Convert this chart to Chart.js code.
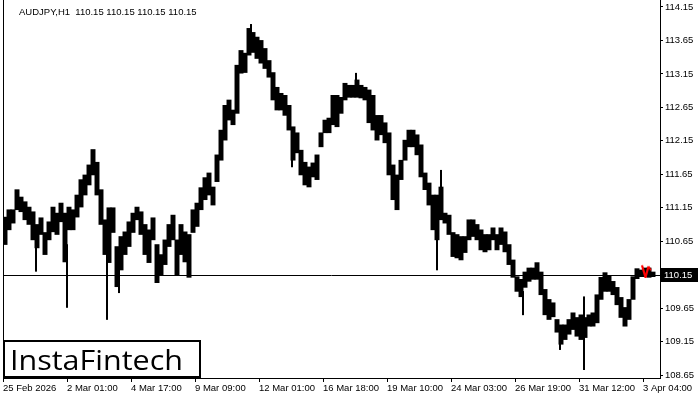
<!DOCTYPE html>
<html>
<head>
<meta charset="utf-8">
<script src="https://cdn.jsdelivr.net/npm/chart.js@4.4.1/dist/chart.umd.min.js"></script>
<style>
  html, body { margin: 0; padding: 0; background: #fff; }
  #chart { display: block; }
</style>
</head>
<body>
<canvas id="chart" width="700" height="400"></canvas>
<script>
const symbolTitle = 'AUDJPY,H1  110.15 110.15 110.15 110.15';
const lastPrice = 110.15;

// 4-hour blocks, left to right (high / low)
const blockHigh = [
  111.01, 111.12, 111.12, 111.42, 111.31, 111.24, 111.16, 111.09, 110.90, 111.00,
  110.78, 110.94, 111.16, 111.07, 111.22, 111.07, 111.16, 111.12, 111.34, 111.57,
  111.64, 111.79, 112.02, 111.83, 111.42, 110.97, 111.15, 111.15, 110.57, 110.72,
  110.79, 110.94, 111.07, 111.16, 111.09, 110.90, 110.82, 111.00, 110.60, 110.45,
  110.67, 110.90, 111.04, 110.67, 110.90, 110.79, 110.75, 111.12, 111.22, 111.45,
  111.60, 111.67, 111.46, 111.94, 112.31, 112.68, 112.76, 112.61, 113.28, 113.50,
  113.46, 113.83, 113.77, 113.70, 113.65, 113.53, 113.35, 113.17, 112.95, 112.86,
  112.83, 112.68, 112.36, 112.27, 112.01, 111.83, 111.76, 111.82, 111.94, 112.27,
  112.46, 112.49, 112.83, 112.83, 112.80, 113.01, 112.98, 112.98, 113.06, 112.98,
  112.95, 112.91, 112.83, 112.53, 112.53, 112.42, 112.27, 111.79, 111.64, 111.86,
  112.16, 112.31, 112.31, 112.24, 112.09, 111.67, 111.52, 111.34, 111.34, 111.46,
  111.07, 111.04, 110.78, 110.75, 110.72, 110.72, 110.97, 110.97, 110.90, 110.82,
  110.75, 110.75, 110.85, 110.75, 110.85, 110.79, 110.60, 110.37, 110.12, 110.08,
  110.19, 110.25, 110.25, 110.33, 110.19, 109.93, 109.78, 109.73, 109.48, 109.40,
  109.40, 109.48, 109.58, 109.51, 109.55, 109.51, 109.55, 109.58, 109.85, 110.11,
  110.18, 110.14, 110.05, 109.96, 109.81, 109.66, 109.78, 110.12, 110.24, 110.22,
  110.25, 110.25, 110.19
];
const blockLow = [
  110.60, 110.82, 110.92, 111.12, 111.09, 110.97, 110.90, 110.67, 110.55, 110.75,
  110.45, 110.67, 110.79, 110.75, 110.94, 110.34, 110.82, 110.82, 111.01, 111.16,
  111.34, 111.49, 111.64, 111.34, 110.90, 110.45, 110.33, 110.78, 109.97, 110.22,
  110.45, 110.57, 110.78, 110.97, 110.75, 110.45, 110.33, 110.67, 110.03, 110.15,
  110.30, 110.57, 110.67, 110.15, 110.45, 110.34, 110.11, 110.78, 110.87, 111.12,
  111.27, 111.34, 111.19, 111.54, 111.86, 112.16, 112.46, 112.39, 112.56, 113.16,
  113.17, 113.43, 113.47, 113.38, 113.31, 113.23, 113.10, 112.76, 112.61, 112.61,
  112.53, 112.31, 111.86, 111.97, 111.64, 111.49, 111.46, 111.61, 111.57, 112.06,
  112.27, 112.27, 112.39, 112.36, 112.56, 112.76, 112.80, 112.80, 112.80, 112.79,
  112.76, 112.42, 112.31, 112.16, 112.24, 112.12, 111.64, 111.27, 111.12, 111.57,
  111.86, 112.06, 112.06, 111.94, 111.61, 111.42, 111.19, 110.82, 110.67, 110.97,
  110.92, 110.75, 110.42, 110.40, 110.37, 110.48, 110.67, 110.72, 110.67, 110.52,
  110.49, 110.52, 110.67, 110.52, 110.60, 110.49, 110.30, 110.11, 109.90, 109.82,
  109.96, 110.05, 110.08, 110.08, 109.85, 109.55, 109.48, 109.52, 109.29, 109.11,
  109.18, 109.26, 109.33, 109.23, 109.18, 109.21, 109.38, 109.38, 109.43, 109.78,
  109.90, 109.90, 109.85, 109.70, 109.51, 109.38, 109.48, 109.78, 110.09, 110.12,
  110.12, 110.11, 110.12
];

// long single-bar wicks (hour index from the first bar)
const spikeHour = [33, 64, 104, 116, 248, 289, 353, 434, 438, 520, 557, 581];
const spikeLow  = [110.20, 109.66, 109.48, 109.88, 113.50, 111.76, 112.90, 110.22, 111.30, 109.55, 109.03, 108.73];
const spikeHigh = [110.70, 110.60, 110.50, 110.30, 113.89, 112.10, 113.16, 110.70, 111.71, 109.90, 109.30, 109.82];

const xTickHours = [0, 64, 128, 192, 256, 320, 384, 448, 512, 576, 640];
const xTickLabels = ['25 Feb 2026', '2 Mar 01:00', '4 Mar 17:00', '9 Mar 09:00', '12 Mar 01:00',
  '16 Mar 18:00', '19 Mar 10:00', '24 Mar 03:00', '26 Mar 19:00', '31 Mar 12:00', '3 Apr 04:00'];
const yTicks = [108.65, 109.15, 109.65, 110.15, 110.65, 111.15, 111.65, 112.15, 112.65, 113.15, 113.65, 114.15];

const markerHour = 643;
const markerPrice = 110.20;

const FONT = "'Liberation Sans', Arial, sans-serif";
const FSIZE = 9.5;

function makeMarker() {
  const c = document.createElement('canvas');
  c.width = 12; c.height = 14;
  const g = c.getContext('2d');
  g.strokeStyle = '#ff0000';
  g.lineWidth = 2.2;
  g.beginPath();
  g.moveTo(2, 1);
  g.lineTo(5.5, 13);
  g.lineTo(8.5, 2);
  g.stroke();
  g.lineWidth = 1.5;
  g.beginPath();
  g.moveTo(8.5, 2);
  g.lineTo(11, 6);
  g.stroke();
  return c;
}

const frame = {
  id: 'frame',
  beforeDatasetsDraw(chart) {
    const { ctx, chartArea, scales } = chart;
    ctx.save();
    ctx.strokeStyle = '#000';
    ctx.lineWidth = 1;
    ctx.beginPath();
    ctx.moveTo(chartArea.left + 0.5, chartArea.top);
    ctx.lineTo(chartArea.left + 0.5, chartArea.bottom);
    const py = Math.round(scales.y.getPixelForValue(lastPrice)) + 0.5;
    ctx.moveTo(chartArea.left, py);
    ctx.lineTo(chartArea.right, py);
    ctx.stroke();
    ctx.restore();
  },
  afterDraw(chart) {
    const { ctx, chartArea, scales } = chart;
    ctx.save();
    // title
    ctx.fillStyle = '#000';
    ctx.font = FSIZE + 'px ' + FONT;
    ctx.textBaseline = 'middle';
    ctx.textAlign = 'left';
    ctx.fillText(symbolTitle, 19, 12);

    // current price box on the axis
    const py = Math.round(scales.y.getPixelForValue(lastPrice));
    ctx.fillStyle = '#000';
    ctx.fillRect(chartArea.right + 1, py - 7, 37, 14);
    ctx.fillStyle = '#fff';
    ctx.fillText(lastPrice.toFixed(2), chartArea.right + 4, py + 0.5);

    // logo
    const bx = 3, by = 340, bw = 198, bh = 38;
    ctx.fillStyle = '#fff';
    ctx.fillRect(bx, by, bw, bh);
    ctx.strokeStyle = '#000';
    ctx.lineWidth = 2;
    ctx.strokeRect(bx + 1, by + 1, bw - 2, bh - 2);
    ctx.fillStyle = '#000';
    ctx.font = '28px "Open Sans", sans-serif';
    ctx.textBaseline = 'alphabetic';
    const w = ctx.measureText('InstaFintech').width;
    ctx.translate(10, 370);
    ctx.scale(173 / w, 1);
    ctx.fillText('InstaFintech', 0, 0);
    ctx.restore();
  }
};

new Chart(document.getElementById('chart'), {
  type: 'bar',
  data: {
    datasets: [
      {
        type: 'line',
        label: 'marker',
        data: [{ x: markerHour, y: markerPrice }],
        showLine: false,
        pointStyle: makeMarker(),
        pointRadius: 6,
        clip: false,
        order: -1
      },
      {
        label: 'range',
        data: blockHigh.map((h, i) => ({ x: i * 4 + 2, y: [blockLow[i], h] })),
        backgroundColor: '#000',
        borderWidth: 0,
        barThickness: 4.3,
        grouped: false
      },
      {
        label: 'wicks',
        data: spikeHour.map((h, i) => ({ x: h, y: [spikeLow[i], spikeHigh[i]] })),
        backgroundColor: '#000',
        borderWidth: 0,
        barThickness: 1.4,
        grouped: false
      }
    ]
  },
  options: {
    responsive: false,
    animation: false,
    layout: { autoPadding: false, padding: { left: 3, top: 0, right: 0, bottom: 0 } },
    plugins: { legend: { display: false }, tooltip: { enabled: false } },
    scales: {
      x: {
        type: 'linear',
        offset: false,
        min: 0,
        max: 657,
        afterBuildTicks: s => { s.ticks = xTickHours.map(v => ({ value: v })); },
        afterFit: s => { s.height = 22; s.paddingLeft = 0; s.paddingRight = 0; },
        ticks: {
          autoSkip: false,
          maxRotation: 0,
          align: 'start',
          padding: 1,
          color: '#000',
          font: { family: FONT, size: FSIZE },
          callback: v => xTickLabels[xTickHours.indexOf(v)]
        },
        grid: { offset: false, drawOnChartArea: false, drawTicks: true, tickLength: 4, color: '#000' },
        border: { display: true, color: '#000' }
      },
      y: {
        position: 'right',
        min: 108.606,
        max: 114.254,
        afterBuildTicks: s => { s.ticks = yTicks.map(v => ({ value: v })); },
        afterFit: s => { s.width = 40; s.paddingTop = 0; s.paddingBottom = 0; },
        ticks: {
          padding: 2,
          color: '#000',
          font: { family: FONT, size: FSIZE },
          callback: v => v.toFixed(2)
        },
        grid: { drawOnChartArea: false, drawTicks: true, tickLength: 3, color: '#000' },
        border: { display: true, color: '#000' }
      }
    }
  },
  plugins: [frame]
});
</script>
</body>
</html>
